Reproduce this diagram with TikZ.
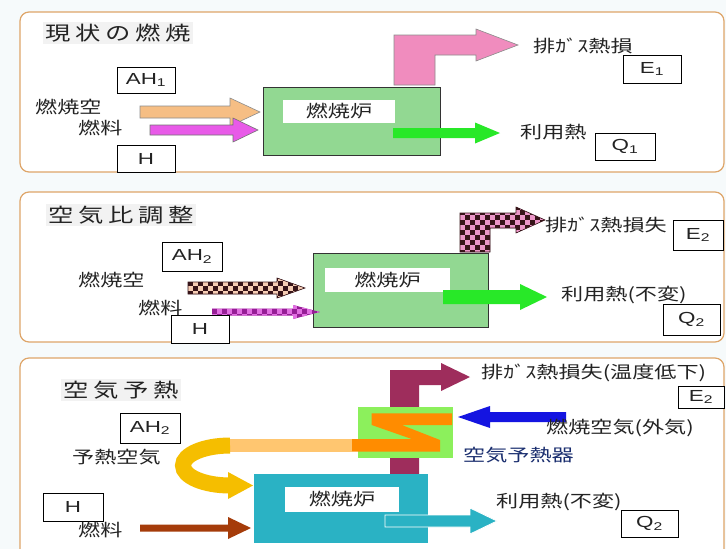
\documentclass[tikz,border=0pt]{standalone}
\usepackage{fontspec}
\newfontfamily\jp[FakeStretch=1.3]{Noto Sans CJK JP}
\newfontfamily\jptit[FakeStretch=1.3,LetterSpace=24]{Noto Sans CJK JP}
\newfontfamily\lat[FakeStretch=1.4]{Liberation Sans}

\definecolor{fondo}{RGB}{246,250,251}
\definecolor{marco}{RGB}{222,165,105}
\definecolor{tinta}{RGB}{35,35,35}
\definecolor{aire}{RGB}{246,190,132}
\definecolor{comb}{RGB}{232,90,232}
\definecolor{gasrosa}{RGB}{240,140,190}
\definecolor{hornov}{RGB}{146,216,146}
\definecolor{util}{RGB}{40,232,40}
\definecolor{chkosc}{RGB}{55,20,25}
\definecolor{chkair}{RGB}{246,205,180}
\definecolor{chkgas}{RGB}{236,150,200}
\definecolor{chkfu1}{RGB}{150,30,150}
\definecolor{chkfu2}{RGB}{225,110,225}
\definecolor{hornoc}{RGB}{42,178,196}
\definecolor{granate}{RGB}{158,45,92}
\definecolor{precal}{RGB}{140,240,92}
\definecolor{naranja}{RGB}{255,140,0}
\definecolor{naranjac}{RGB}{255,198,112}
\definecolor{oro}{RGB}{245,190,0}
\definecolor{azul}{RGB}{20,20,225}
\definecolor{cafe}{RGB}{165,60,10}
\definecolor{azulosc}{RGB}{25,45,110}

% flecha gruesa horizontal: x inicio, x punta, y centro, medio tallo, media punta, largo punta
\newcommand{\flecha}[6]{(#1,{#3-#4}) -- ({#2-(#6)},{#3-#4}) -- ({#2-(#6)},{#3-#5}) -- (#2,#3)
  -- ({#2-(#6)},{#3+#5}) -- ({#2-(#6)},{#3+#4}) -- (#1,{#3+#4}) -- cycle}
% relleno a cuadros en (#1,#2)-(#3,#4)
\newcommand{\damero}[5]{%
  \pgfmathtruncatemacro{\nx}{(#3-#1)/5}%
  \pgfmathtruncatemacro{\ny}{(#4-#2)/5}%
  \foreach \i in {0,...,\nx}{\foreach \j in {0,...,\ny}{%
    \pgfmathtruncatemacro{\paridad}{mod(\i+\j,2)}%
    \ifnum\paridad=0 \fill[#5] ({#1+5*\i},{#2+5*\j}) rectangle ++(5,5);\fi}}}

\begin{document}
\begin{tikzpicture}[x=1pt, y=-1pt,
  etiq/.style={font=\jp\fontsize{17}{20}\selectfont, text=tinta, anchor=west, inner sep=0pt},
  titulo/.style={font=\jptit\fontsize{19.5}{22}\selectfont, text=tinta, anchor=west, fill=black!5, inner sep=2pt},
  valor/.style={draw=black, line width=0.9pt, fill=white, font=\lat\fontsize{16}{18}\selectfont,
    text=tinta, inner sep=0pt},
  ventana/.style={fill=white, inner sep=0pt, font=\jp\fontsize{17}{20}\selectfont, text=tinta},
  panel/.style={draw=marco, line width=1.2pt, fill=white, rounded corners=9pt}]
  \path[use as bounding box] (0,0) rectangle (726,549);
  \clip (0,0) rectangle (726,549);
  \fill[fondo] (0,0) rectangle (726,549);
  \draw[panel] (20,12) rectangle (724,172);
  \draw[panel] (20,192) rectangle (724,342);
  \draw[panel] (20,358) rectangle (724,572);

  % ---- situacion actual
  \node[titulo] (tit1) at (43,33) {現状の燃焼};
  \node[draw=black!80, fill=hornov, minimum width=177pt, minimum height=68pt] (f1) at (351.5,121) {};
  \node[ventana, minimum width=112pt, minimum height=23pt] (v1) at (339,111.5) {燃焼炉};
  \filldraw[fill=aire, draw=black!45, line width=0.6pt] \flecha{140}{260}{112}{6}{14}{30};
  \filldraw[fill=comb, draw=black!55, line width=0.6pt] \flecha{150}{258}{130}{5}{12}{25};
  \fill[util] \flecha{393}{500}{133}{5}{10.5}{25};
  \filldraw[fill=gasrosa, draw=black!45, line width=0.6pt] (394,85) -- (394,35) -- (476,35) -- (476,29)
    -- (518,45) -- (476,61) -- (476,55) -- (435,55) -- (435,85) -- cycle;
  \node[etiq] (aire1) at (35,107) {燃焼空};
  \node[etiq] (comb1) at (78,128) {燃料};
  \node[valor, minimum width=58pt, minimum height=26pt] (ah1) at (146,80) {AH\textsubscript{1}};
  \node[valor, minimum width=58pt, minimum height=27pt] (h1) at (146,158.5) {H};
  \node[etiq] (gas1) at (533,46) {排ｶﾞｽ熱損};
  \node[valor, minimum width=58pt, minimum height=28pt] (e1) at (652,69) {E\textsubscript{1}};
  \node[etiq] (util1) at (520,132) {利用熱};
  \node[valor, minimum width=60pt, minimum height=27pt] (q1) at (625,146.5) {Q\textsubscript{1}};

  % ---- ajuste de la relacion de aire
  \node[titulo] (tit2) at (46,215) {空気比調整};
  \node[draw=black!80, fill=hornov, minimum width=175pt, minimum height=74pt] (f2) at (400.5,290) {};
  \node[ventana, minimum width=125pt, minimum height=24pt] (v2) at (387.5,280) {燃焼炉};
  \fill[util] \flecha{443}{547}{297}{7}{13}{27};
  \begin{scope}
    \clip \flecha{188}{305}{288}{6}{10}{28};
    \fill[chkosc] (188,276) rectangle (305,300);
    \damero{188}{276}{305}{300}{chkair}
  \end{scope}
  \draw[chkosc, line width=0.6pt] \flecha{188}{305}{288}{6}{10}{28};
  \begin{scope}
    \clip \flecha{212}{320}{312}{3.5}{7}{27};
    \fill[chkfu1] (212,304) rectangle (320,320);
    \damero{212}{304}{320}{320}{chkfu2}
  \end{scope}
  \begin{scope}
    \clip (460,252) -- (460,213) -- (516,213) -- (516,207) -- (545,220) -- (516,233) -- (516,228)
      -- (490,228) -- (490,252) -- cycle;
    \fill[chkosc] (460,205) rectangle (546,253);
    \damero{460}{205}{546}{253}{chkgas}
  \end{scope}
  \draw[chkosc, line width=0.6pt] (460,252) -- (460,213) -- (516,213) -- (516,207) -- (545,220)
    -- (516,233) -- (516,228) -- (490,228) -- (490,252) -- cycle;
  \node[valor, minimum width=60pt, minimum height=29pt] (ah2) at (192,256.5) {AH\textsubscript{2}};
  \node[etiq] (aire2) at (78,280) {燃焼空};
  \node[etiq] (comb2) at (138,308) {燃料};
  \node[valor, minimum width=58pt, minimum height=28pt] (h2) at (200,329) {H};
  \node[etiq] (gas2) at (545,225) {排ｶﾞｽ熱損失};
  \node[valor, minimum width=50pt, minimum height=30pt] (e2) at (698,235) {E\textsubscript{2}};
  \node[etiq] (util2) at (561,295) {利用熱(不変)};
  \node[valor, minimum width=57pt, minimum height=31pt] (q2) at (691.5,319.5) {Q\textsubscript{2}};

  % ---- precalentamiento del aire
  \node[titulo] (tit3) at (61,390) {空気予熱};
  \fill[granate] (390,474) -- (390,370) -- (441,370) -- (441,363) -- (470,377) -- (441,391)
    -- (441,385) -- (419,385) -- (419,474) -- cycle;
  \node[fill=hornoc, minimum width=174pt, minimum height=69pt] (f3) at (341,508.5) {};
  \node[ventana, minimum width=114pt, minimum height=25pt] (v3) at (342,499.5) {燃焼炉};
  \filldraw[fill=hornoc, draw=white, line width=0.8pt] \flecha{385}{497}{521}{6}{13}{27};
  \node[fill=precal, minimum width=95pt, minimum height=51pt] (pc) at (405.5,432.5) {};
  \fill[naranjac] (228,439) rectangle (352,452);
  \fill[naranja] (371.7,413.3) -- (452,413.3) -- (452,425) -- (401.7,425) -- (440,440)
    -- (440,451.7) -- (352,451.7) -- (352,439) -- (411.7,439) -- (371.7,425) -- cycle;
  \draw[oro, line width=16pt] (230,445.5) arc[start angle=270, end angle=90, x radius=47, y radius=20];
  \fill[oro] (228,472) -- (253,485.5) -- (228,499) -- cycle;
  \fill[azul] \flecha{566}{458}{417}{5}{11}{-32};
  \fill[cafe] \flecha{140}{251}{528}{3.5}{11}{23};
  \node[valor, minimum width=60pt, minimum height=30pt] (ah3) at (150,428) {AH\textsubscript{2}};
  \node[etiq] (aire3) at (72,457) {予熱空気};
  \node[valor, minimum width=60pt, minimum height=28pt] (h3) at (73,507) {H};
  \node[etiq] (comb3) at (78,530) {燃料};
  \node[etiq] (gas3) at (481,373) {排ｶﾞｽ熱損失(温度低下)};
  \node[valor, minimum width=46pt, minimum height=22pt] (e3) at (701,397) {E\textsubscript{2}};
  \node[etiq] (ext3) at (546,428) {燃焼空気(外気)};
  \node[etiq, text=azulosc] (pcl) at (463,455) {空気予熱器};
  \node[etiq] (util3) at (496,502) {利用熱(不変)};
  \node[valor, minimum width=57pt, minimum height=27pt] (q3) at (649.5,523.5) {Q\textsubscript{2}};
\end{tikzpicture}
\end{document}
